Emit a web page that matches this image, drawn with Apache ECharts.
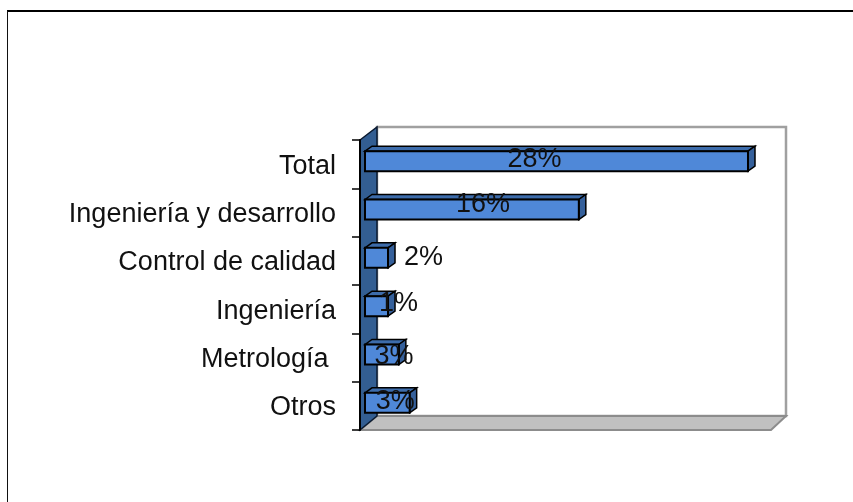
<!DOCTYPE html>
<html><head><meta charset="utf-8">
<style>html,body{margin:0;padding:0;background:#fff}#c{width:853px;height:502px}</style>
<script src="https://cdn.jsdelivr.net/npm/echarts@6/dist/echarts.min.js"></script>
</head><body><div id="c"></div>
<script>
const categories = ['Total','Ingeniería y desarrollo','Control de calidad','Ingeniería','Metrología ','Otros'];
const values = [28.3,15.8,1.7,1.7,2.5,3.3];
const valueLabels = ['28%','16%','2%','1%','3%','3%'];

const labelDx = [-22,11,47,22,12,8];
const labelDy = [-2,-5,0,-3,2,-1];
const font = '"Liberation Sans",Arial,sans-serif';
const DX=17, DY=14, bx=7, by=5, barH=20, barShift=-3;

const chart = echarts.init(document.getElementById('c'),null,{renderer:'canvas'});
function poly(points,fill,stroke,lw){return {type:'polygon',shape:{points},style:{fill,stroke,lineWidth:lw,lineJoin:'miter'}};}
chart.setOption({
  animation:false,
  backgroundColor:'#fff',
  graphic:[
    {type:'line',shape:{x1:7,y1:11,x2:853,y2:11},style:{stroke:'#000',lineWidth:2},z:100},
    {type:'line',shape:{x1:7.5,y1:11,x2:7.5,y2:502},style:{stroke:'#111',lineWidth:1},z:100}
  ],
  grid:{left:360,top:140,width:411,height:290,containLabel:false},
  xAxis:{type:'value',min:-0.37,max:30,show:false,splitLine:{show:false}},
  yAxis:{type:'category',inverse:true,data:categories,z:5,
    axisLine:{show:true,onZero:false,lineStyle:{color:'#000',width:2}},
    axisTick:{show:true,inside:false,length:8,lineStyle:{color:'#000',width:1.5}},
    axisLabel:{margin:24,formatter:v=>'{a|'+v+'}',
      rich:{a:{color:'#111',fontSize:27,fontFamily:font,padding:[4,0,0,0]}}},
    splitLine:{show:false}},
  series:[
    {type:'custom',silent:true,z:1,clip:false,data:[0],encode:{x:0},
     renderItem(p,api){
       const r=p.coordSys,l=r.x,t=r.y,b=r.y+r.height,w=r.x+r.width;
       return {type:'group',children:[
         {type:'rect',shape:{x:l+DX,y:t-DY+1,width:r.width-2,height:r.height-1},style:{fill:'#fff',stroke:'#a0a0a0',lineWidth:2.5}},
         poly([[l,b],[w,b],[w+DX-2,b-DY],[l+DX,b-DY]],'#c0c0c0','#8c8c8c',2),
         poly([[l,t],[l+DX,t-DY+1],[l+DX,b-DY],[l,b]],'#335e92','#0a1a30',1.5)
       ]};
     }},
    {type:'custom',z:2,clip:false,
     data:values.map((v,i)=>[v,i]),encode:{x:0,y:1},
     renderItem(p,api){
       const i=p.dataIndex,c1=api.coord([api.value(0),i]),c0=api.coord([0,i]);
       const x0=c0[0],x1=c1[0],y0=c1[1]-barH/2+barShift,y1=y0+barH;
       const s='#000';
       return {type:'group',children:[
         poly([[x0,y0],[x0+bx,y0-by],[x1+bx,y0-by],[x1,y0]],'#3d6cab',s,1.5),
         poly([[x1,y0],[x1+bx,y0-by],[x1+bx,y1-by],[x1,y1]],'#35609b',s,1.5),
         poly([[x0,y0],[x1,y0],[x1,y1],[x0,y1]],'#4f88d8',s,2),
         {type:'text',z2:10,style:{text:valueLabels[i],x:(x0+x1)/2+labelDx[i],y:y0+barH/2+labelDy[i],
           align:'center',verticalAlign:'middle',fontSize:27,fontFamily:font,fill:'#111'}}
       ]};
     }}
  ]
});
</script></body></html>
